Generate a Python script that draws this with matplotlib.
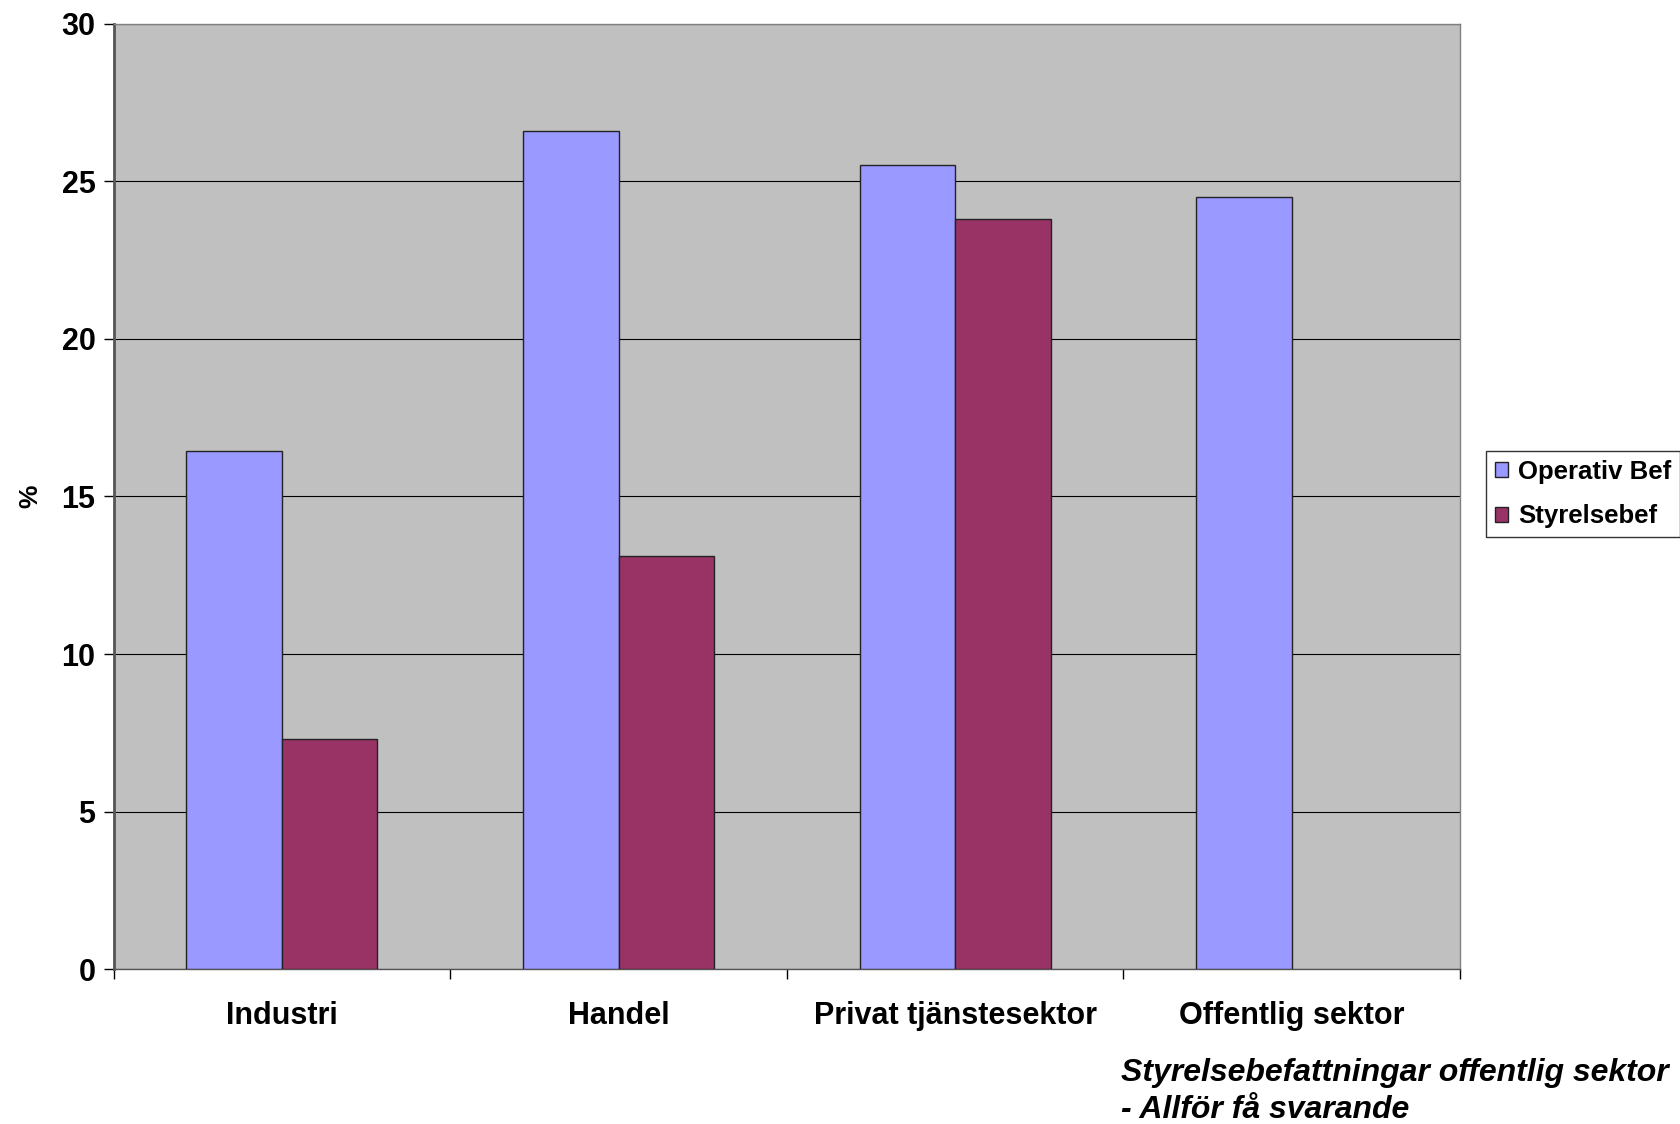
import matplotlib.pyplot as plt
import numpy as np

plt.rcParams['font.family'] = ['Liberation Sans', 'DejaVu Sans']
plt.rcParams['font.weight'] = 'bold'

categories = ['Industri', 'Handel', 'Privat tjänstesektor', 'Offentlig sektor']
operativ = [16.45, 26.6, 25.5, 24.5]
styrelse = [7.3, 13.1, 23.8, np.nan]

fig = plt.figure(figsize=(16.81, 11.24), dpi=100)
ax = fig.add_axes([113.6 / 1681, 1 - 969.2 / 1124, (1460 - 113.6) / 1681, (969.2 - 23.6) / 1124])
ax.set_facecolor('#c0c0c0')

x = np.arange(len(categories))
w = 0.284
ax.bar(x - w / 2, operativ, w, color='#9999ff', edgecolor='#222222', linewidth=1, label='Operativ Bef', zorder=3)
ax.bar(x + w / 2, styrelse, w, color='#993366', edgecolor='#222222', linewidth=1, label='Styrelsebef', zorder=3)

ax.set_xlim(-0.5, 3.5)
ax.set_ylim(0, 30)
ax.set_yticks(range(0, 31, 5))
ax.yaxis.grid(True, color='black', linewidth=0.8, zorder=1)
ax.set_xticks(x)
ax.set_xticklabels(categories, fontsize=22, fontweight='bold')
ax.set_xticks(np.arange(-0.5, 4, 1), minor=True)
ax.tick_params(axis='x', which='major', length=0, pad=23)
ax.tick_params(axis='x', which='minor', length=7, width=1)
ax.tick_params(axis='y', labelsize=22, length=7, width=1, pad=6)
for lab in ax.get_yticklabels():
    lab.set_fontweight('bold')
ax.set_ylabel('%', fontsize=19, fontweight='bold')
ax.yaxis.set_label_coords(-0.053, 0.5)

for s in ['top', 'right']:
    ax.spines[s].set_color('#808080')
    ax.spines[s].set_linewidth(1)
ax.spines['left'].set_color('#555555')
ax.spines['left'].set_linewidth(2)
ax.spines['bottom'].set_color('#555555')
ax.spines['bottom'].set_linewidth(1)

leg = ax.legend(loc='center left', bbox_to_anchor=(1.0193, 0.5025), borderaxespad=0,
                prop={'weight': 'bold', 'size': 18.5}, frameon=True, fancybox=False,
                edgecolor='black', handlelength=0.5, handleheight=0.5, handletextpad=0.4,
                borderpad=0.35, labelspacing=0.8)
leg.get_frame().set_linewidth(1)

fig.text(1121 / 1681, 1 - 1081 / 1124, 'Styrelsebefattningar offentlig sektor', fontsize=23,
         fontstyle='italic', fontweight='bold', va='baseline')
fig.text(1121 / 1681, 1 - 1118 / 1124, '- Allför få svarande', fontsize=23,
         fontstyle='italic', fontweight='bold', va='baseline')

fig.savefig('out.png', dpi=100)
